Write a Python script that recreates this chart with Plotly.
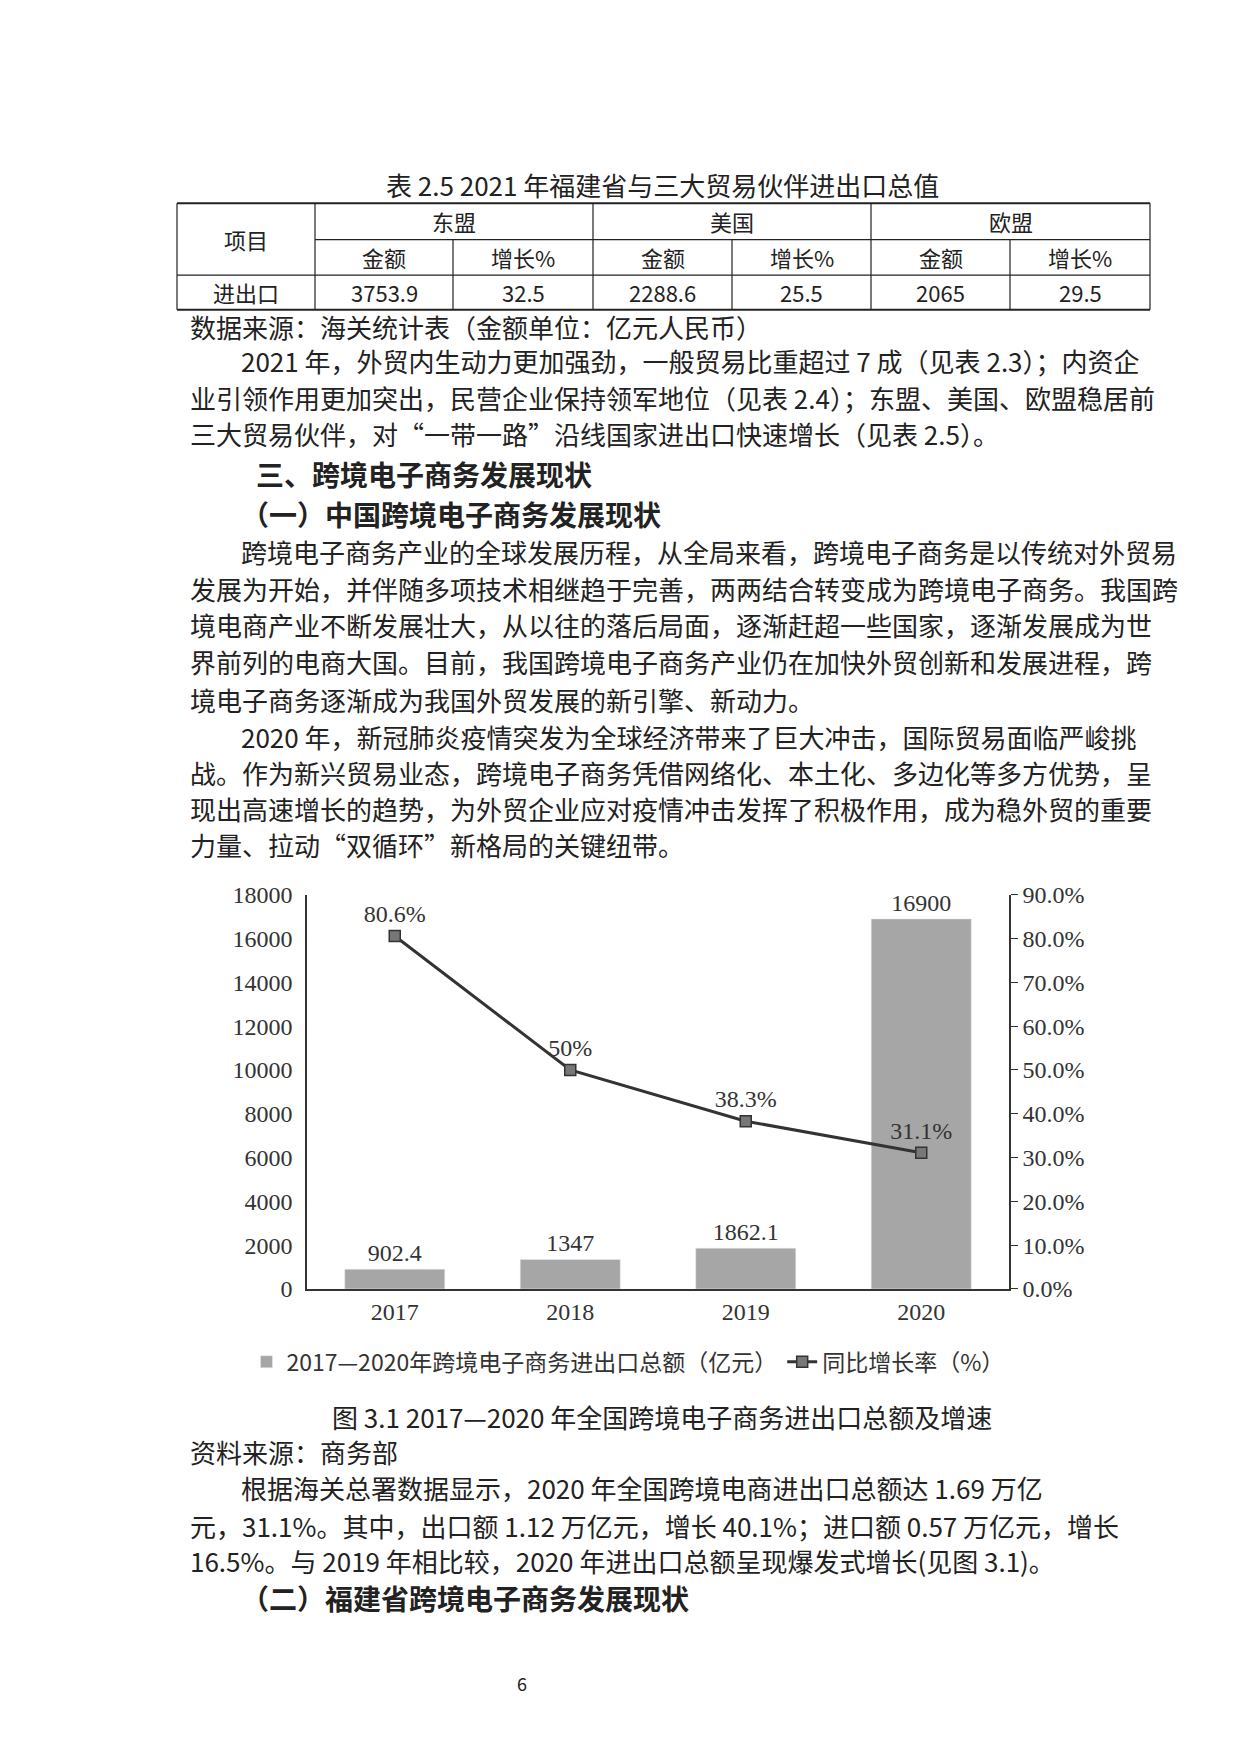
import plotly.graph_objects as go

years = ["2017", "2018", "2019", "2020"]
totals = [902.4, 1347, 1862.1, 16900]
total_labels = ["902.4", "1347", "1862.1", "16900"]
growth = [80.6, 50, 38.3, 31.1]
growth_labels = ["80.6%", "50%", "38.3%", "31.1%"]

table_head = ["东盟", "美国", "欧盟"]
table_vals = ["3753.9", "32.5", "2288.6", "25.5", "2065", "29.5"]

W, H = 1240, 1754
CN = "Noto Sans CJK SC"
SERIF = "Liberation Serif"

fig = go.Figure()
fig.add_trace(go.Bar(x=years, y=totals, name="2017—2020年跨境电子商务进出口总额（亿元）",
                     marker_color="#a6a6a6", width=0.57, text=total_labels,
                     textposition="outside", cliponaxis=False,
                     textfont=dict(family=SERIF, size=24, color="#333")))
fig.add_trace(go.Scatter(x=years, y=growth, yaxis="y2", name="同比增长率（%）",
                         mode="lines+markers+text", text=growth_labels,
                         textposition=["top center", "top center", "top center", "top center"],
                         cliponaxis=False,
                         line=dict(color="#333", width=3),
                         marker=dict(symbol="square", size=11, color="#777",
                                     line=dict(color="#333", width=1.5)),
                         textfont=dict(family=SERIF, size=24, color="#333")))

x0, x1 = 299 / W, 1001 / W
y0, y1 = 1 - 1287 / H, 1 - 887 / H
fig.update_layout(
    width=W, height=H, margin=dict(l=0, r=0, t=0, b=0),
    paper_bgcolor="white", plot_bgcolor="white", showlegend=True,
    xaxis=dict(domain=[x0, x1], showline=True, linecolor="#333", linewidth=2,
               ticks="", tickfont=dict(family=SERIF, size=24, color="#333")),
    yaxis=dict(range=[0, 18000], dtick=2000, tickformat="d", showgrid=False,
               showline=True, linecolor="#333", linewidth=1.5, domain=[y0, y1],
               ticklabelstandoff=8,
               tickfont=dict(family=SERIF, size=24, color="#333")),
    yaxis2=dict(overlaying="y", side="right", range=[0, 90], dtick=10,
                ticksuffix=".0%", showgrid=False, showline=True, linecolor="#333",
                linewidth=1.5, ticks="outside", ticklen=7, tickcolor="#333",
                tickfont=dict(family=SERIF, size=24, color="#333")),
    legend=dict(orientation="h", x=0.5, xanchor="center", y=1 - 1361 / H,
                yanchor="middle", font=dict(family=CN, size=23, color="#333")),
)

def txt(s, x, y, size=26, bold=False, anchor="left"):
    if bold:
        s = "<b>" + s + "</b>"
    fig.add_annotation(text=s, x=x / W, y=1 - y / H, xref="paper", yref="paper",
                       xanchor=anchor, yanchor="middle", showarrow=False,
                       font=dict(family=CN, size=size, color="#222"))

# table
txt("表 2.5 2021 年福建省与三大贸易伙伴进出口总值", 654, 166, anchor="center")
cols = [169, 307, 445, 585, 724, 863, 1002, 1142]
rows = [185, 222, 258, 293]
def line(xa, ya, xb, yb, w=1.2):
    fig.add_shape(type="line", xref="paper", yref="paper", x0=xa / W, x1=xb / W,
                  y0=1 - ya / H, y1=1 - yb / H, line=dict(color="#222", width=w))
line(cols[0], rows[0], cols[-1], rows[0], 2)
line(cols[0], rows[3], cols[-1], rows[3], 2)
line(cols[1], rows[1], cols[-1], rows[1])
line(cols[0], rows[2], cols[-1], rows[2])
for i, c in enumerate(cols):
    top = rows[1] if i in (2, 4, 6) else rows[0]
    line(c, top, c, rows[3])
TS = 22
txt("项目", (cols[0] + cols[1]) / 2, (rows[0] + rows[2]) / 2, size=TS, anchor="center")
txt("进出口", (cols[0] + cols[1]) / 2, (rows[2] + rows[3]) / 2, size=TS, anchor="center")
for k, h in enumerate(table_head):
    txt(h, (cols[1 + 2 * k] + cols[3 + 2 * k]) / 2, (rows[0] + rows[1]) / 2, size=TS, anchor="center")
for j in range(6):
    cx = (cols[1 + j] + cols[2 + j]) / 2
    txt("金额" if j % 2 == 0 else "增长%", cx, (rows[1] + rows[2]) / 2, size=TS, anchor="center")
    txt(table_vals[j], cx, (rows[2] + rows[3]) / 2, size=TS, anchor="center")

txt("数据来源：海关统计表（金额单位：亿元人民币）", 180, 310)
para1 = [("2021 年，外贸内生动力更加强劲，一般贸易比重超过 7 成（见表 2.3）；内资企", 231, 345),
         ("业引领作用更加突出，民营企业保持领军地位（见表 2.4）；东盟、美国、欧盟稳居前", 180, 382),
         ("三大贸易伙伴，对“一带一路”沿线国家进出口快速增长（见表 2.5）。", 180, 419)]
for s, x, y in para1:
    txt(s, x, y)
txt("三、跨境电子商务发展现状", 246, 460, size=28, bold=True)
txt("（一）中国跨境电子商务发展现状", 231, 500, size=28, bold=True)
para2 = [("跨境电子商务产业的全球发展历程，从全局来看，跨境电子商务是以传统对外贸易", 231, 538),
         ("发展为开始，并伴随多项技术相继趋于完善，两两结合转变成为跨境电子商务。我国跨", 180, 576),
         ("境电商产业不断发展壮大，从以往的落后局面，逐渐赶超一些国家，逐渐发展成为世", 180, 613),
         ("界前列的电商大国。目前，我国跨境电子商务产业仍在加快外贸创新和发展进程，跨", 180, 650),
         ("境电子商务逐渐成为我国外贸发展的新引擎、新动力。", 180, 689),
         ("2020 年，新冠肺炎疫情突发为全球经济带来了巨大冲击，国际贸易面临严峻挑", 231, 726),
         ("战。作为新兴贸易业态，跨境电子商务凭借网络化、本土化、多边化等多方优势，呈", 180, 763),
         ("现出高速增长的趋势，为外贸企业应对疫情冲击发挥了积极作用，成为稳外贸的重要", 180, 799),
         ("力量、拉动“双循环”新格局的关键纽带。", 180, 836)]
for s, x, y in para2:
    txt(s, x, y)

txt("图 3.1 2017—2020 年全国跨境电子商务进出口总额及增速", 654, 1417, anchor="center")
txt("资料来源：商务部", 180, 1452)
para3 = [("根据海关总署数据显示，2020 年全国跨境电商进出口总额达 1.69 万亿", 231, 1489),
         ("元，31.1%。其中，出口额 1.12 万亿元，增长 40.1%；进口额 0.57 万亿元，增长", 180, 1527),
         ("16.5%。与 2019 年相比较，2020 年进出口总额呈现爆发式增长(见图 3.1)。", 180, 1563)]
for s, x, y in para3:
    txt(s, x, y)
txt("（二）福建省跨境电子商务发展现状", 231, 1601, size=28, bold=True)
txt("6", 507, 1687, size=18)

fig.write_html("out.html")
